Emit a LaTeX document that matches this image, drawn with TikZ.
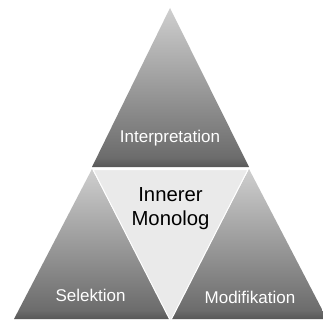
\documentclass[tikz,border=0pt]{standalone}
\usepackage{fontspec}
\setmainfont{Liberation Sans}

\definecolor{tritop}{HTML}{CFCFCF}
\definecolor{trimid}{HTML}{6C6C6C}
\definecolor{tribot}{HTML}{575757}
\definecolor{innerfill}{HTML}{EAEAEA}
\pgfdeclareverticalshading{pyramid}{100bp}{color(0bp)=(tribot); color(25bp)=(tribot); color(28bp)=(trimid); color(75bp)=(tritop); color(100bp)=(tritop)}

\begin{document}
\begin{tikzpicture}[x=1pt,y=-1pt]
	\tikzset{outer/.style={shading=pyramid}}
	\tikzset{inner/.style={fill=innerfill, draw=white, line width=1pt, line join=round}}
	\tikzset{lbl/.style={text=white, font=\fontsize{17}{20}\selectfont, anchor=base, inner sep=0pt}}

	\clip (0,0) rectangle (323,321);
	\fill[white] (0,0) rectangle (323,321);

	% corner points of the four triangles
	\coordinate (top) at (170,8);
	\coordinate (topl) at (92,167);
	\coordinate (topr) at (249,167);
	\coordinate (lefttop) at (92,169);
	\coordinate (leftl) at (14,319);
	\coordinate (leftr) at (170,319);
	\coordinate (righttop) at (249,169);
	\coordinate (rightl) at (171,319);
	\coordinate (rightr) at (327,319);
	\coordinate (midl) at (93,169.5);
	\coordinate (midr) at (248,169.5);
	\coordinate (midtip) at (170.5,321);

	\shade[outer] (top) -- (topr) -- (topl) -- cycle;
	\shade[outer] (lefttop) -- (leftr) -- (leftl) -- cycle;
	\shade[outer] (righttop) -- (rightr) -- (rightl) -- cycle;
	\filldraw[inner] (midl) -- (midr) -- (midtip) -- cycle;

	\node[lbl] (interp) at (170,142) {Interpretation};
	\node[lbl] (sel) at (90.5,301) {Selektion};
	\node[lbl] (mod) at (250,303) {Modifikation};
	\node[align=center, inner sep=0pt, font=\fontsize{20.3}{24}\selectfont] (mono) at (170.5,209) {Innerer\\Monolog};
\end{tikzpicture}
\end{document}
